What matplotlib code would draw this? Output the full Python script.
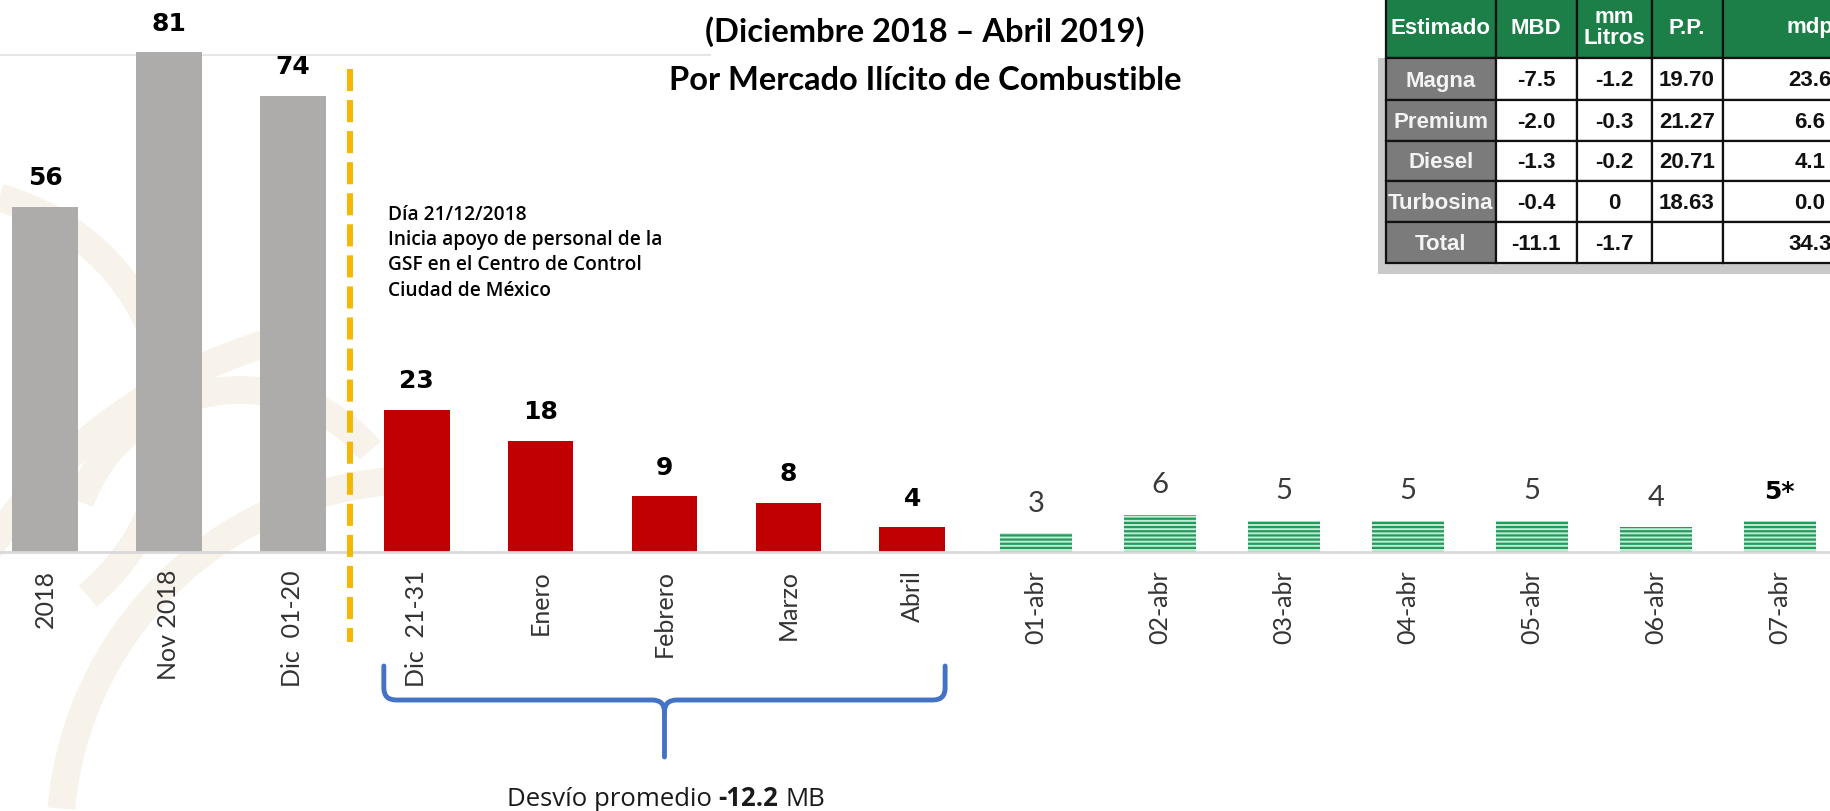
import numpy as np
import matplotlib
matplotlib.use("Agg")
import matplotlib.pyplot as plt
from matplotlib.path import Path
from matplotlib.patches import PathPatch, Rectangle, Arc
from matplotlib.transforms import blended_transform_factory

# ---- data ----
categories = ["2018", "Nov 2018", "Dic  01-20",
              "Dic  21-31", "Enero", "Febrero", "Marzo", "Abril",
              "01-abr", "02-abr", "03-abr", "04-abr", "05-abr", "06-abr", "07-abr"]
gray_values = [56, 81, 74]
red_values = [23, 18, 9, 8, 4]
green_values = [3, 6, 5, 5, 5, 4, 5]
green_labels = ["3", "6", "5", "5", "5", "4", "5*"]

table_header = ["Estimado", "MBD", "mm\nLitros", "P.P.", "mdp"]
table_rows = ["Magna", "Premium", "Diesel", "Turbosina", "Total"]
table_mbd = ["-7.5", "-2.0", "-1.3", "-0.4", "-11.1"]
table_litros = ["-1.2", "-0.3", "-0.2", "0", "-1.7"]
table_pp = ["19.70", "21.27", "20.71", "18.63", ""]
table_mdp = ["23.6", "6.6", "4.1", "0.0", "34.3"]

title_lines = ["Desviación MBD", "(Diciembre 2018 – Abril 2019)",
               "Por Mercado Ilícito de Combustible"]
note_text = ("Día 21/12/2018\nInicia apoyo de personal de la\n"
             "GSF en el Centro de Control\nCiudad de México")

W, H = 1831, 811
fig = plt.figure(figsize=(W / 100, H / 100), dpi=100)
fig.patch.set_facecolor("white")

# background layer (faint watermark) in pixel coords
bg = fig.add_axes([0, 0, 1, 1], zorder=0)
bg.set_xlim(0, W)
bg.set_ylim(H, 0)
bg.axis("off")
for cx, cy, r, t1, t2 in [(420, 840, 360, 185, 265), (420, 840, 520, 190, 255),
                          (-60, 420, 230, 285, 410), (240, 560, 170, 200, 320)]:
    bg.add_patch(Arc((cx, cy), 2 * r, 2 * r, theta1=t1, theta2=t2,
                     color="#f7f3ea", lw=20))
bg.plot([0, 710], [55, 55], color="#e6e6e6", lw=1.5)

# main bars
ax = fig.add_axes([0, (H - 552) / H, 1, 552 / H], zorder=1)
ax.patch.set_visible(False)
x = np.arange(len(categories))
plt.rcParams["hatch.linewidth"] = 1.6
b_gray = ax.bar(x[:3], gray_values, width=0.53, color="#aeabab")
b_red = ax.bar(x[3:8], red_values, width=0.53, color="#c00000")
b_green = ax.bar(x[8:], green_values, width=0.58, color="#c6ecd6",
                 edgecolor="#1f9d5c", hatch="----", linewidth=0)
ax.set_xlim(-0.363, 14.415)
ax.set_ylim(0, 89.5)
for s in ["top", "left", "right"]:
    ax.spines[s].set_visible(False)
ax.spines["bottom"].set_color("#d9d9d9")
ax.spines["bottom"].set_linewidth(2)
ax.set_yticks([])
ax.set_xticks(x, categories, rotation=90, fontsize=18, color="#333333",
              family="Lato")
ax.tick_params(axis="x", length=0, pad=13)

for bars, vals in [(b_gray, gray_values), (b_red, red_values)]:
    ax.bar_label(bars, labels=[str(v) for v in vals], padding=12,
                 fontsize=18, fontweight="bold", color="black")
gtexts = ax.bar_label(b_green, labels=green_labels, padding=12,
                      fontsize=21, family="Lato", color="#3a3a3a")
gtexts[-1].set_fontweight("bold")
gtexts[-1].set_color("black")
gtexts[-1].set_fontsize(18)
gtexts[-1].set_family("DejaVu Sans")

# overlay in pixel coords
ov = fig.add_axes([0, 0, 1, 1], zorder=2)
ov.patch.set_visible(False)
ov.set_xlim(0, W)
ov.set_ylim(H, 0)
ov.axis("off")
trans = blended_transform_factory(ax.transData, ov.transData)

# divider
ov.plot([2.46, 2.46], [69, 642], transform=trans, color="#f5b800",
        lw=4.3, dashes=(3.7, 1.5))

# brace under the red group
x0, x1 = 3 - 0.265, 7 + 0.265
xc = (x0 + x1) / 2
r = 0.1
verts = [(x0, 666), (x0, 688), (x0, 700), (x0 + r, 700), (xc - r, 700),
         (xc, 700), (xc, 712), (xc, 757),
         (x1, 666), (x1, 688), (x1, 700), (x1 - r, 700), (xc + r, 700),
         (xc, 700), (xc, 712)]
codes = [Path.MOVETO, Path.LINETO, Path.CURVE3, Path.CURVE3, Path.LINETO,
         Path.CURVE3, Path.CURVE3, Path.LINETO,
         Path.MOVETO, Path.LINETO, Path.CURVE3, Path.CURVE3, Path.LINETO,
         Path.CURVE3, Path.CURVE3]
ov.add_patch(PathPatch(Path(verts, codes), fill=False, edgecolor="#4472c4",
                       lw=3.5, transform=trans, capstyle="round"))

# titles (first line sits mostly above the visible area, as in the slide)
for yy, txt in zip([-10, 32, 80], title_lines):
    ov.text(925, yy, txt, ha="center", va="center", fontsize=23.5,
            fontweight="bold", family="Lato", color="black")

ov.text(388, 205, note_text, ha="left", va="top", fontsize=13.8,
        fontweight="semibold", family="Open Sans", linespacing=1.35)

# Desvío promedio text with bold number
renderer = fig.canvas.get_renderer()
parts = [("Desvío promedio", "normal"), ("-12.2", "bold"), ("MB", "normal")]
pieces = []
for txt, wgt in parts:
    t = ov.text(0, 799, txt, ha="left", va="center", fontsize=18.5,
                fontweight=wgt, family="Open Sans", color="#1a1a1a")
    pieces.append(t)
gap = 7
widths = [p.get_window_extent(renderer).width for p in pieces]
total = sum(widths) + gap * (len(widths) - 1)
start = 666 - total / 2
for p, w in zip(pieces, widths):
    p.set_x(start)
    start += w + gap

# table (top right, its last column runs past the slide edge)
col_edges = [1386, 1496, 1577, 1652, 1723, 1900]
row_edges = [-6, 58, 100, 141, 181, 222, 263]
col_center = [1441, 1536, 1614, 1687, 1810]
narrow = ["Liberation Sans Narrow", "Liberation Sans"]
ov.add_patch(Rectangle((col_edges[0] - 8, row_edges[1]),
                       col_edges[-1] - col_edges[0] + 8,
                       row_edges[-1] - row_edges[1] + 11,
                       facecolor="#c9c9c9", edgecolor="none"))
columns = [table_rows, table_mbd, table_litros, table_pp, table_mdp]
for c in range(len(table_header)):
    cl, cr = col_edges[c], col_edges[c + 1]
    for r_i in range(len(table_rows) + 1):
        top, bot = row_edges[r_i], row_edges[r_i + 1]
        if r_i == 0:
            face, tcol, txt = "#1b7f47", "white", table_header[c]
        elif c == 0:
            face, tcol, txt = "#7b7b7b", "#f4f4f4", columns[c][r_i - 1]
        else:
            face, tcol, txt = "white", "#111111", columns[c][r_i - 1]
        ov.add_patch(Rectangle((cl, top), cr - cl, bot - top,
                               facecolor=face, edgecolor="#111111", lw=1.6))
        ov.text(col_center[c], (top + bot) / 2 + 2, txt, ha="center",
                va="center", fontsize=16,
                fontweight="bold", family=narrow, color=tcol,
                linespacing=0.95, fontstretch="condensed")

fig.savefig("out.png", dpi=100)
